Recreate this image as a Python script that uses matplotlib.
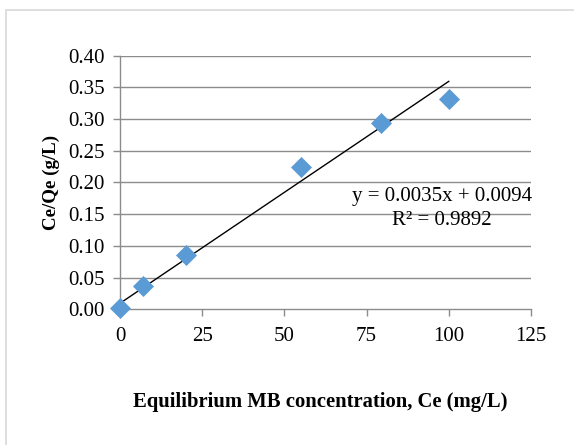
import numpy as np
import matplotlib.pyplot as plt
from matplotlib.patches import Rectangle

plt.rcParams['font.family'] = ['Liberation Serif', 'DejaVu Serif']

# data
ce = [0, 7, 20, 55, 79.5, 100]
ce_qe = [0.002, 0.037, 0.086, 0.224, 0.293, 0.332]
slope = 0.0035
intercept = 0.0094
xticks = [0, 25, 50, 75, 100, 125]
yticks = [0.00, 0.05, 0.10, 0.15, 0.20, 0.25, 0.30, 0.35, 0.40]

fig = plt.figure(figsize=(5.74, 4.45), dpi=100)
ax = fig.add_axes([0.209, 0.305, 0.716, 0.570])

# outer chart frame (Excel-like)
fig.patches.append(Rectangle((6 / 574, -0.05), 1.1, (445 - 10) / 445 + 0.05,
                             transform=fig.transFigure, fill=False,
                             edgecolor='#d9d9d9', linewidth=1.2))

grid_c = '#8c8c8c'
for t in yticks[1:]:
    ax.axhline(t, color=grid_c, linewidth=1.0, zorder=1)

xl = np.array([0, 100])
ax.plot(xl, slope * xl + intercept, color='black', linewidth=1.0, zorder=3)
ax.scatter(ce, ce_qe, marker='D', s=115, color='#5b9bd5', zorder=4,
           linewidths=0, clip_on=False)

ax.set_xlim(0, 125)
ax.set_ylim(0, 0.40)
ax.set_xticks(xticks)
ax.set_yticks(yticks)
ax.set_xticklabels([str(v) for v in xticks])
ax.set_yticklabels(['%.2f' % v for v in yticks])
ax.tick_params(axis='both', labelsize=15, color=grid_c, length=5, width=1.0)
ax.tick_params(axis='x', pad=8)
ax.tick_params(axis='y', pad=6)

for side in ['top', 'right']:
    ax.spines[side].set_visible(False)
for side in ['left', 'bottom']:
    ax.spines[side].set_color(grid_c)
    ax.spines[side].set_linewidth(1.0)

ax.text(0.784, 0.397, 'y = 0.0035x + 0.0094\nR² = 0.9892', transform=ax.transAxes,
        ha='center', va='center', fontsize=15, linespacing=1.3)

ax.set_ylabel('Ce/Qe (g/L)', fontsize=13.7, fontweight='bold', labelpad=6)
fig.text(320 / 574, 1 - 402 / 445, 'Equilibrium MB concentration, Ce (mg/L)',
         ha='center', va='center', fontsize=14.9, fontweight='bold')

fig.savefig('out.png', dpi=100)
